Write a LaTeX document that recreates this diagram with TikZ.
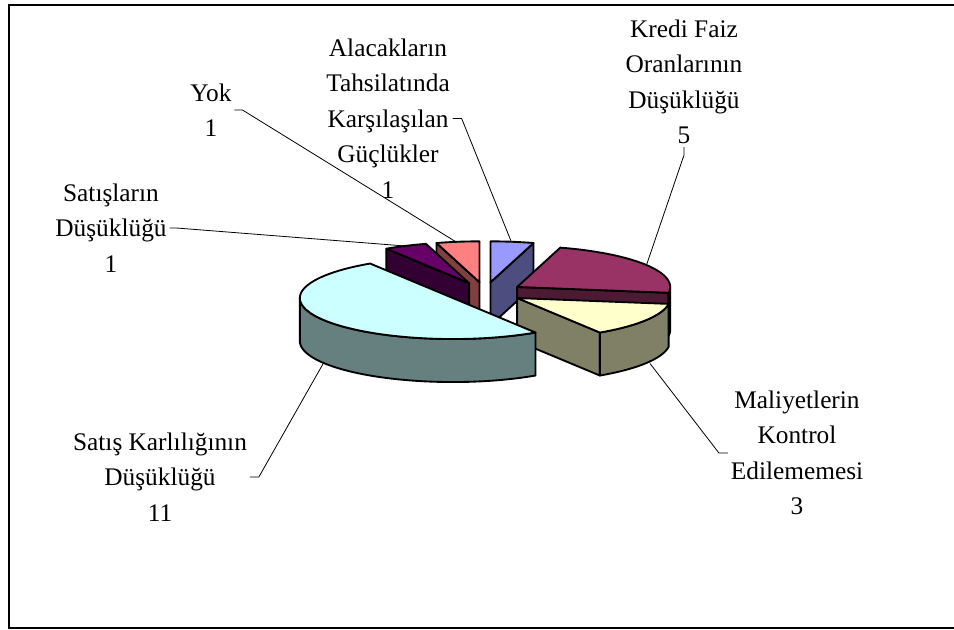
\documentclass[tikz,border=0pt]{standalone}
\usepackage{fontspec}
\setmainfont{Liberation Serif}

% slice colours: top face and shaded sides
\definecolor{alacTop}{HTML}{9999FF}\definecolor{alacSide}{HTML}{4D4D80}
\definecolor{krediTop}{HTML}{993366}\definecolor{krediSide}{HTML}{4D1A33}
\definecolor{malTop}{HTML}{FFFFCC}\definecolor{malSide}{HTML}{808066}
\definecolor{bigTop}{HTML}{CCFFFF}\definecolor{bigSide}{HTML}{668080}
\definecolor{satTop}{HTML}{660066}\definecolor{satSide}{HTML}{330033}
\definecolor{yokTop}{HTML}{FF8080}\definecolor{yokSide}{HTML}{804040}

% pie geometry (pixel units, y downwards)
\def\pcx{485}\def\pcy{292.5}\def\ra{153}\def\rb{41}\def\dep{43}\def\ex{0.25}

% centre of an exploded slice, from its bisector angle
\newcommand\setslice[2]{%
  \pgfmathsetmacro\slx{\pcx+\ex*\ra*cos(#1)}%
  \pgfmathsetmacro\sly{\pcy-\ex*\rb*sin(#1)}%
  \coordinate (#2) at (\slx,\sly);}
% top face between two angles
\newcommand\slicetop[3]{%
  \filldraw[piece,fill=#1] (\slx,\sly) -- plot[domain=#2:#3,samples=60]
    ({\slx+\ra*cos(\x)},{\sly-\rb*sin(\x)}) -- cycle;}
% outer curved wall between two angles
\newcommand\slicewall[3]{%
  \filldraw[piece,fill=#1] plot[domain=#2:#3,samples=60]
    ({\slx+\ra*cos(\x)},{\sly-\rb*sin(\x)}) -- plot[domain=#3:#2,samples=60]
    ({\slx+\ra*cos(\x)},{\sly+\dep-\rb*sin(\x)}) -- cycle;}
% radial cut face at one angle
\newcommand\sliceface[2]{%
  \filldraw[piece,fill=#1] (\slx,\sly) -- ({\slx+\ra*cos(#2)},{\sly-\rb*sin(#2)})
    -- ({\slx+\ra*cos(#2)},{\sly+\dep-\rb*sin(#2)}) -- (\slx,{\sly+\dep}) -- cycle;}

\begin{document}
\begin{tikzpicture}[x=0.75pt,y=-0.75pt,
  piece/.style={draw=black,line width=1.4pt,line join=round},
  lbl/.style={align=center,font=\fontsize{19}{26.6}\selectfont,inner sep=2pt},
  leader/.style={draw=black,line width=0.6pt}]
\useasboundingbox (0,0) rectangle (954,629);

% frame
\draw[line width=1.5pt] (954,5) -- (9,5) -- (9,628) -- (954,628);

% data labels
\node[lbl] (alac) at (388,118.5) {Alacakların\\Tahsilatında\\Karşılaşılan\\Güçlükler\\1};
\node[lbl] (yok) at (211,110) {Yok\\1};
\node[lbl] (satd) at (111,228) {Satışların\\Düşüklüğü\\1};
\node[lbl] (kredi) at (684,82) {Kredi Faiz\\Oranlarının\\Düşüklüğü\\5};
\node[lbl] (satk) at (160,477) {Satış Karlılığının\\Düşüklüğü\\11};
\node[lbl] (mal) at (797,453) {Maliyetlerin\\Kontrol\\Edilememesi\\3};

% leader end points on the slices
\coordinate (pA) at (512,243.5);
\coordinate (pY) at (457,242.5);
\coordinate (pS) at (411.5,246.5);
\coordinate (pK) at (646.5,265);
\coordinate (pB) at (323.5,363);
\coordinate (pM) at (650,363.5);

\draw[leader] (alac.east) -- ++(9,0) -- (pA);
\draw[leader] (yok.east) -- ++(8,0) -- (pY);
\draw[leader] (satd.east) -- ++(7,0) -- (pS);
\draw[leader] (kredi.south) -- ++(0,8) -- (pK);
\draw[leader] (satk.east) -- ++(9,0) -- (pB);
\draw[leader] (mal.west) -- ++(-9,0) -- (pM);

% slices, back to front
\setslice{81.818}{cA}
\sliceface{alacSide}{73.636}
\slicetop{alacTop}{73.636}{90}

\setslice{98.182}{cY}
\sliceface{yokSide}{106.364}
\slicetop{yokTop}{90}{106.364}

\setslice{114.545}{cS}
\sliceface{satSide}{122.727}
\slicetop{satTop}{106.364}{122.727}

\setslice{32.727}{cK}
\sliceface{krediSide}{-8.182}
\slicewall{krediSide}{-8.182}{0}
\slicetop{krediTop}{-8.182}{73.636}

\setslice{-32.727}{cM}
\sliceface{malSide}{-57.273}
\slicewall{malSide}{-57.273}{-8.182}
\slicetop{malTop}{-57.273}{-8.182}

\setslice{-147.273}{cB}
\slicewall{bigSide}{180}{302.727}
\slicetop{bigTop}{122.727}{302.727}
\end{tikzpicture}
\end{document}
